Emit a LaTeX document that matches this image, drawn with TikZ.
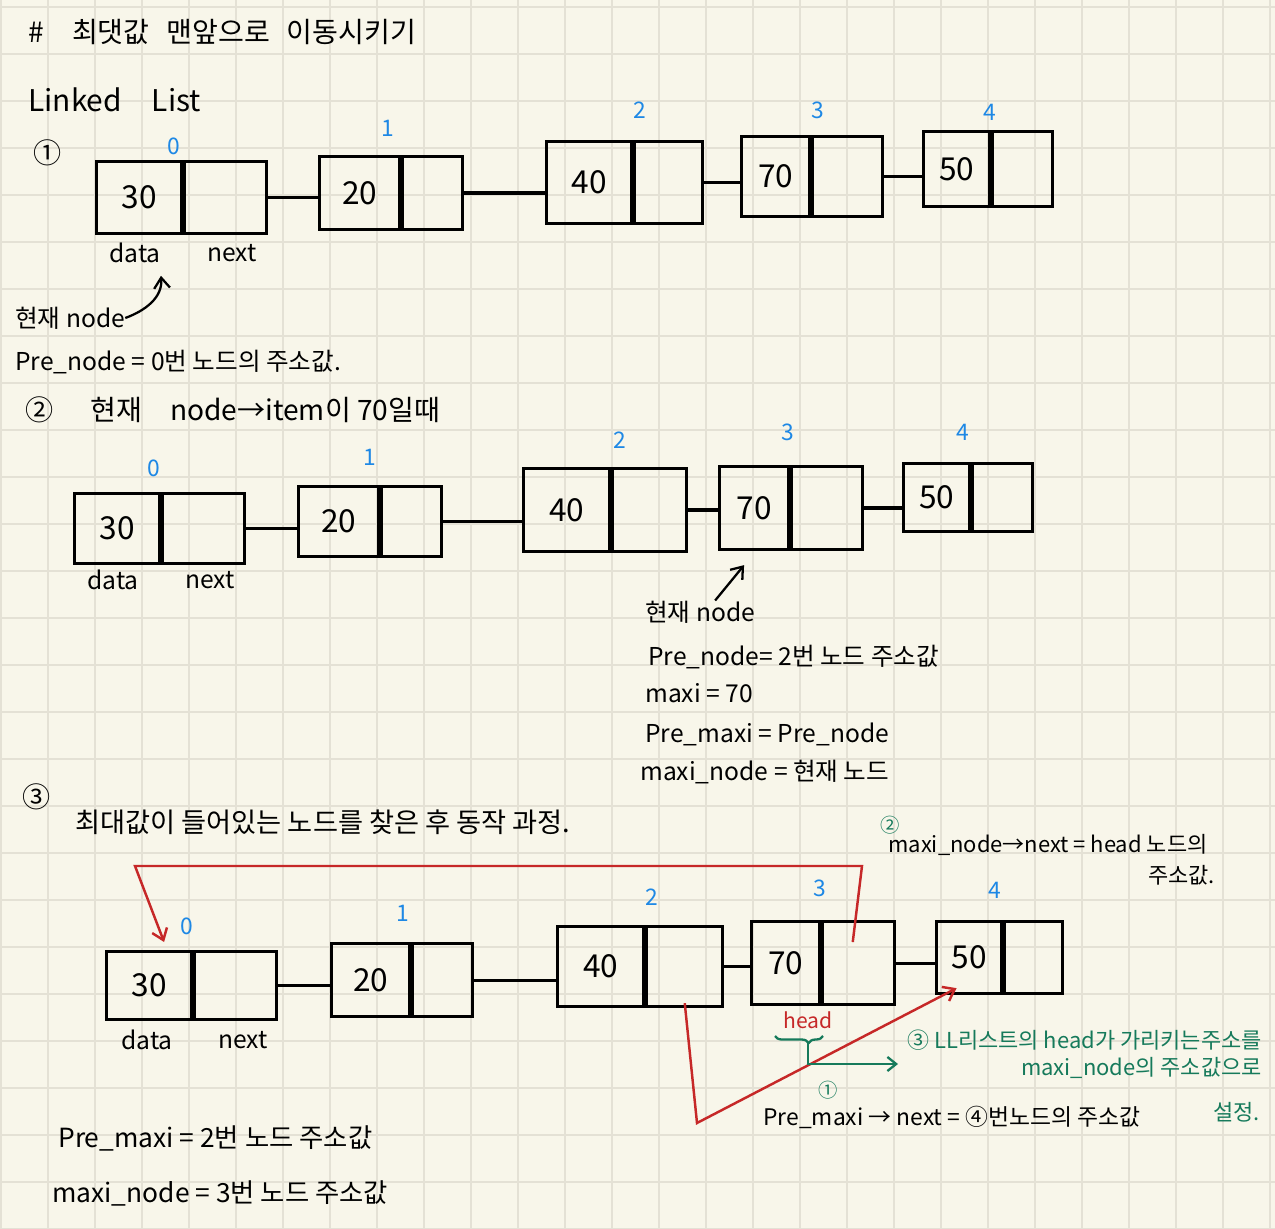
\documentclass[tikz,border=0pt]{standalone}
\usepackage{fontspec}
\setmainfont{Noto Sans CJK KR}
\usetikzlibrary{arrows.meta,decorations.pathreplacing}
\definecolor{paper}{HTML}{F8F6EA}
\definecolor{gridc}{HTML}{E4E1D5}
\definecolor{idxblue}{HTML}{1E88E5}
\definecolor{penred}{HTML}{C62828}
\definecolor{pengreen}{HTML}{167A5B}

\begin{document}
\begin{tikzpicture}[x=0.02cm, y=-0.02cm,
  field/.style={draw, line width=1.8pt, anchor=north west, inner sep=0pt, font=\fontsize{18}{18}\selectfont},
  wd/.style={minimum width=#1*0.02cm},
  ht/.style={minimum height=#1*0.02cm},
  link/.style={line width=1.8pt},
  idx/.style={text=idxblue, font=\fontsize{13}{13}\selectfont},
  note/.style={anchor=west, inner sep=0pt, font=\fontsize{14}{14}\selectfont},
  small/.style={note, font=\fontsize{12.5}{12.5}\selectfont},
  pen/.style={line width=1.3pt, -{Straight Barb[length=6pt,width=9pt]}},
  redpen/.style={pen, draw=penred, line width=1.4pt},
  greenpen/.style={draw=pengreen, line width=1.3pt}]

\useasboundingbox (0,0) rectangle (1275,1229);
\fill[paper] (0,0) rectangle (1275,1229);
\foreach \gx in {0.7,47.7,...,1275} \draw[gridc, line width=1.1pt] (\gx,0) -- (\gx,1229);
\foreach \gy in {6.7,53.7,...,1229} \draw[gridc, line width=1.1pt] (0,\gy) -- (1275,\gy);

% title
\node[note, font=\fontsize{16}{16}\selectfont] (title) at (28,32) {\#\hspace{1em}최댓값\hspace{0.6em}맨앞으로\hspace{0.6em}이동시키기};
\node[note, font=\fontsize{17}{17}\selectfont] (ll) at (28,100) {Linked\quad List};

% list 1
\node[note, anchor=center, font=\fontsize{16}{16}\selectfont] (c1) at (48,153) {①};
\node[field, wd=85, ht=72] (d10) at (95,160) {30};
\node[field, wd=82, ht=72] (n10) at (d10.north east) {};
\node[field, wd=80, ht=73] (d11) at (318,155) {20};
\node[field, wd=60, ht=73] (n11) at (d11.north east) {};
\node[field, wd=85, ht=82] (d12) at (545,140) {40};
\node[field, wd=68, ht=82] (n12) at (d12.north east) {};
\node[field, wd=68, ht=80] (d13) at (740,135) {70};
\node[field, wd=70, ht=80] (n13) at (d13.north east) {};
\node[field, wd=66, ht=75] (d14) at (922,130) {50};
\node[field, wd=60, ht=75] (n14) at (d14.north east) {};
\draw[link] (n10.east) -- (n10.east -| d11.west);
\draw[link] (n11.east) -- (n11.east -| d12.west);
\draw[link] (n12.east) -- (n12.east -| d13.west);
\draw[link] (n13.east) -- (n13.east -| d14.west);
\node[idx] (i10) at (174,146) {0};
\node[idx] (i11) at (388,128) {1};
\node[idx] (i12) at (640,110) {2};
\node[idx] (i13) at (818,110) {3};
\node[idx] (i14) at (990,112) {4};
\node[note, anchor=center] (data1) at (135,253) {data};
\node[note, anchor=center] (next1) at (232,253) {next};
\node[note] (cur1) at (15,318) {현재 node};
\draw[pen] (cur1.east) to[out=20, in=-85] ([yshift=-0.25cm]data1.south east);
\node[note] (pre1) at (15,362) {Pre\_node = 0번 노드의 주소값.};

% list 2
\node[note, anchor=center, font=\fontsize{16}{16}\selectfont] (c2) at (40,410) {②};
\node[note, font=\fontsize{16}{16}\selectfont] (step2) at (90,410) {현재\quad node→item이 70일때};
\node[field, wd=85, ht=70] (d20) at (73,492) {30};
\node[field, wd=82, ht=70] (n20) at (d20.north east) {};
\node[field, wd=80, ht=70] (d21) at (297,485) {20};
\node[field, wd=60, ht=70] (n21) at (d21.north east) {};
\node[field, wd=86, ht=83] (d22) at (522,467) {40};
\node[field, wd=74, ht=83] (n22) at (d22.north east) {};
\node[field, wd=69, ht=83] (d23) at (718,465) {70};
\node[field, wd=71, ht=83] (n23) at (d23.north east) {};
\node[field, wd=66, ht=68] (d24) at (902,462) {50};
\node[field, wd=60, ht=68] (n24) at (d24.north east) {};
\draw[link] (n20.east) -- (n20.east -| d21.west);
\draw[link] (n21.east) -- (n21.east -| d22.west);
\draw[link] (n22.east) -- (n22.east -| d23.west);
\draw[link] (n23.east) -- (n23.east -| d24.west);
\node[idx] (i20) at (154,468) {0};
\node[idx] (i21) at (370,457) {1};
\node[idx] (i22) at (620,440) {2};
\node[idx] (i23) at (788,432) {3};
\node[idx] (i24) at (963,432) {4};
\node[note, anchor=center] (data2) at (113,580) {data};
\node[note, anchor=center] (next2) at (210,580) {next};
\node[note] (cur2) at (645,612) {현재 node};
\draw[pen] ([xshift=0.3cm]cur2.north) -- ([xshift=-0.2cm,yshift=-0.28cm]d23.south);
\node[note] (pre2) at (648,657) {Pre\_node= 2번 노드 주소값};
\node[note] (maxi2) at (645,693) {maxi = 70};
\node[note] (pmax2) at (645,734) {Pre\_maxi = Pre\_node};
\node[note] (mnode2) at (640,772) {maxi\_node = 현재 노드};

% list 3
\node[note, anchor=center, font=\fontsize{16}{16}\selectfont] (c3) at (37,797) {③};
\node[note, font=\fontsize{15.5}{15.5}\selectfont] (step3) at (75,822) {최대값이 들어있는 노드를 찾은 후 동작 과정.};
\node[small, anchor=center, text=pengreen, font=\fontsize{11}{11}\selectfont] (g2) at (890,825) {②};
\node[small] (hnote1) at (888,845) {maxi\_node→next = head 노드의};
\node[small] (hnote2) at (1148,875) {주소값.};
\node[field, wd=85, ht=68] (d30) at (105,950) {30};
\node[field, wd=82, ht=68] (n30) at (d30.north east) {};
\node[field, wd=78, ht=73] (d31) at (330,942) {20};
\node[field, wd=60, ht=73] (n31) at (d31.north east) {};
\node[field, wd=86, ht=80] (d32) at (556,925) {40};
\node[field, wd=76, ht=80] (n32) at (d32.north east) {};
\node[field, wd=68, ht=83] (d33) at (750,920) {70};
\node[field, wd=72, ht=83] (n33) at (d33.north east) {};
\node[field, wd=65, ht=72] (d34) at (935,920) {50};
\node[field, wd=58, ht=72] (n34) at (d34.north east) {};
\draw[link] (n30.east) -- (n30.east -| d31.west);
\draw[link] (n31.east) -- (n31.east -| d32.west);
\draw[link] (n32.east) -- (n32.east -| d33.west);
\draw[link] (n33.east) -- (n33.east -| d34.west);
\node[idx] (i30) at (187,926) {0};
\node[idx] (i31) at (403,913) {1};
\node[idx] (i32) at (652,897) {2};
\node[idx] (i33) at (820,888) {3};
\node[idx] (i34) at (995,890) {4};
\node[note, anchor=center] (data3) at (147,1040) {data};
\node[note, anchor=center] (next3) at (243,1040) {next};

% red pointers
\draw[redpen] ([xshift=-0.12cm,yshift=0.42cm]n33.center) -- (862,866) -- (135,866) -- ([xshift=0.3cm,yshift=0.16cm]d30.north);
\draw[redpen] ([yshift=0.1cm]n32.south) -- (697,1123) -- ([xshift=-0.25cm,yshift=0.14cm]d34.south);

% head
\node[note, anchor=center, text=penred, font=\fontsize{12}{12}\selectfont] (head) at (808,1020) {head};
\draw[greenpen, decorate, decoration={brace, amplitude=4pt, aspect=0.3}] (823,1036) -- (775,1036);
\draw[greenpen, -{Straight Barb[length=5pt,width=8pt]}] (808,1042) -- (808,1064) -- (898,1064);
\node[small, anchor=east, text=pengreen] (gnote1) at (1262,1040) {③ LL리스트의 head가 가리키는주소를};
\node[small, anchor=east, text=pengreen] (gnote2) at (1262,1068) {maxi\_node의 주소값으로};
\node[small, anchor=center, text=pengreen, font=\fontsize{11}{11}\selectfont] (g1) at (828,1090) {①};
\node[note, font=\fontsize{13}{13}\selectfont] (pnext) at (763,1117) {Pre\_maxi → next = ④번노드의 주소값};
\node[small, text=pengreen] (set) at (1213,1112) {설정.};

\node[note, font=\fontsize{15}{15}\selectfont] (pmax3) at (58,1138) {Pre\_maxi = 2번 노드 주소값};
\node[note, font=\fontsize{15}{15}\selectfont] (mnode3) at (52,1193) {maxi\_node = 3번 노드 주소값};
\end{tikzpicture}
\end{document}
